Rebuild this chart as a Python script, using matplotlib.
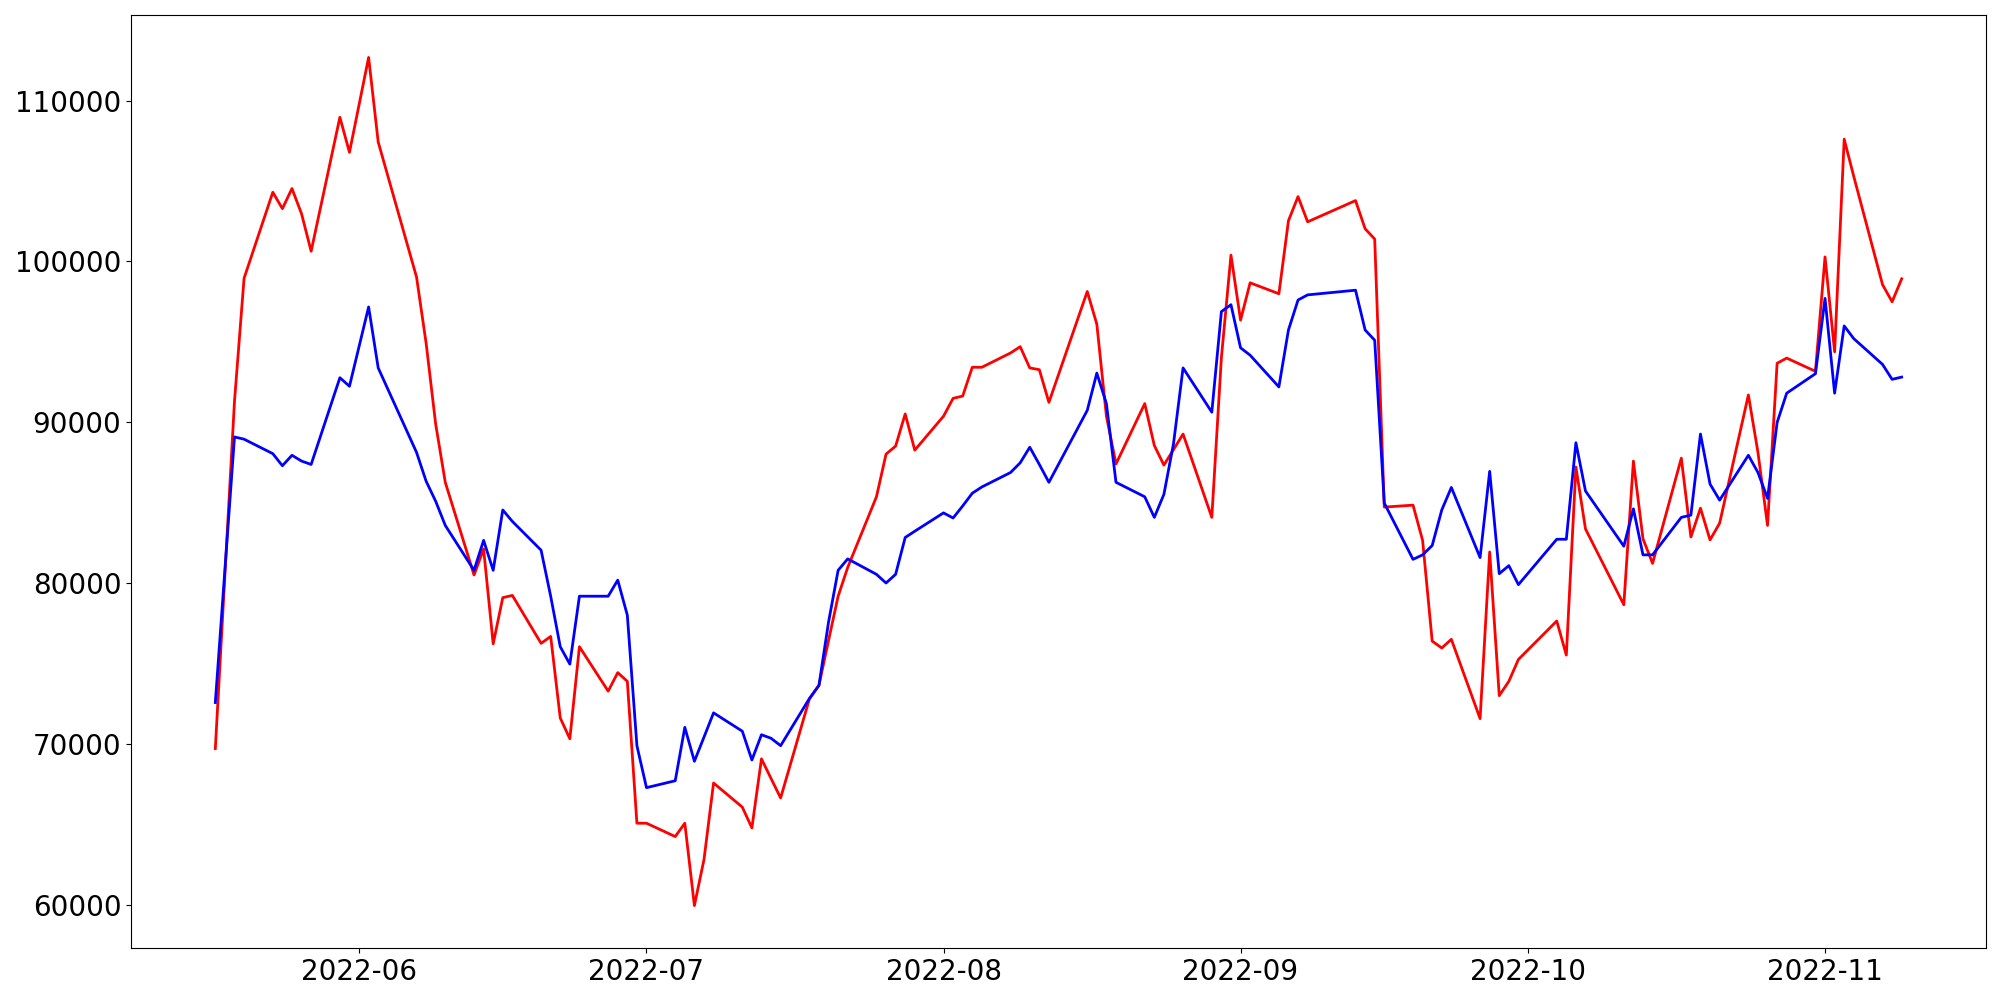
import matplotlib
matplotlib.use("Agg")
import matplotlib.pyplot as plt
import pandas as pd

dates = [
    "2022-05-17", "2022-05-19", "2022-05-20", "2022-05-23", "2022-05-24", "2022-05-25",
    "2022-05-26", "2022-05-27", "2022-05-30", "2022-05-31",
    "2022-06-02", "2022-06-03", "2022-06-07", "2022-06-08", "2022-06-09", "2022-06-10",
    "2022-06-13", "2022-06-14", "2022-06-15", "2022-06-16", "2022-06-17", "2022-06-20",
    "2022-06-21", "2022-06-22", "2022-06-23", "2022-06-24", "2022-06-27", "2022-06-28",
    "2022-06-29", "2022-06-30",
    "2022-07-01", "2022-07-04", "2022-07-05", "2022-07-06", "2022-07-07", "2022-07-08",
    "2022-07-11", "2022-07-12", "2022-07-13", "2022-07-14", "2022-07-15", "2022-07-18",
    "2022-07-19", "2022-07-20", "2022-07-21", "2022-07-22", "2022-07-25", "2022-07-26",
    "2022-07-27", "2022-07-28", "2022-07-29",
    "2022-08-01", "2022-08-02", "2022-08-03", "2022-08-04", "2022-08-05", "2022-08-08",
    "2022-08-09", "2022-08-10", "2022-08-11", "2022-08-12", "2022-08-16", "2022-08-17",
    "2022-08-18", "2022-08-19", "2022-08-22", "2022-08-23", "2022-08-24", "2022-08-25",
    "2022-08-26", "2022-08-29", "2022-08-30", "2022-08-31",
    "2022-09-01", "2022-09-02", "2022-09-05", "2022-09-06", "2022-09-07", "2022-09-08",
    "2022-09-13", "2022-09-14", "2022-09-15", "2022-09-16", "2022-09-19", "2022-09-20",
    "2022-09-21", "2022-09-22", "2022-09-23", "2022-09-26", "2022-09-27", "2022-09-28",
    "2022-09-29", "2022-09-30",
    "2022-10-04", "2022-10-05", "2022-10-06", "2022-10-07", "2022-10-11", "2022-10-12",
    "2022-10-13", "2022-10-14", "2022-10-17", "2022-10-18", "2022-10-19", "2022-10-20",
    "2022-10-21", "2022-10-24", "2022-10-25", "2022-10-26", "2022-10-27", "2022-10-28",
    "2022-10-31",
    "2022-11-01", "2022-11-02", "2022-11-03", "2022-11-04", "2022-11-07", "2022-11-08",
    "2022-11-09",
]

red_values = [
    # May
    69720, 91300, 98950, 104300, 103280, 104530, 102960, 100630, 108960, 106780,
    # June
    112680, 107420, 99030, 94920, 89880, 86270, 80510, 82120, 76230, 79100,
    79240, 76260, 76690, 71620, 70330, 76050, 73290, 74440, 73900, 65080,
    # July
    65080, 64250, 65080, 59960, 62820, 67580, 66080, 64790, 69080, 67860,
    66650, 72800, 73650, 76440, 79190, 80980, 85370, 88020, 88520, 90520, 88270,
    # August
    90380, 91490, 91630, 93420, 93420, 94310, 94700, 93380, 93270, 91240,
    98130, 96100, 90380, 87410, 91160, 88560, 87340, 88300, 89270, 84090,
    94020, 100390,
    # September
    96350, 98670, 97990, 102530, 104030, 102460, 103780, 102030, 101390, 84730,
    84850, 82660, 76400, 75970, 76510, 71580, 81940, 73010, 73900, 75260,
    # October
    77650, 75530, 87220, 83370, 78660, 87590, 82760, 81230, 87770, 82870,
    84660, 82690, 83730, 91700, 88130, 83590, 93670, 93990, 93170,
    # November
    100280, 94380, 107600, 105280, 98560, 97490, 98920,
]

blue_values = [
    # May
    72580, 89090, 88950, 88050, 87300, 87950, 87590, 87380, 92770, 92240,
    # June
    97170, 93380, 88130, 86340, 85090, 83590, 80800, 82660, 80800, 84550,
    83840, 82050, 79190, 76050, 74970, 79190, 79190, 80190, 78010, 69900,
    # July
    67290, 67720, 71040, 68930, 70430, 71940, 70800, 69010, 70580, 70360,
    69900, 72830, 73650, 77580, 80800, 81510, 80550, 80010, 80550, 82840, 83230,
    # August
    84370, 84050, 84800, 85590, 85980, 86880, 87480, 88450, 87380, 86270,
    90740, 93060, 91160, 86270, 85370, 84090, 85520, 88660, 93380, 90630,
    96880, 97310,
    # September
    94630, 94170, 92200, 95740, 97600, 97920, 98210, 95740, 95100, 84980,
    81480, 81760, 82340, 84550, 85950, 81590, 86950, 80590, 81090, 79910,
    # October
    82730, 82730, 88730, 85730, 82300, 84620, 81760, 81760, 84090, 84230,
    89270, 86160, 85160, 87950, 86880, 85270, 89990, 91810, 93020,
    # November
    97700, 91810, 95990, 95200, 93600, 92670, 92810,
]

x = pd.to_datetime(dates)

fig, ax = plt.subplots(figsize=(20, 10), dpi=100)
ax.plot(x, red_values, color="red", linewidth=2)
ax.plot(x, blue_values, color="blue", linewidth=2)
ax.tick_params(axis="both", labelsize=20)
fig.subplots_adjust(left=0.0655, right=0.993, top=0.985, bottom=0.052)
fig.savefig("out.png", dpi=100)
